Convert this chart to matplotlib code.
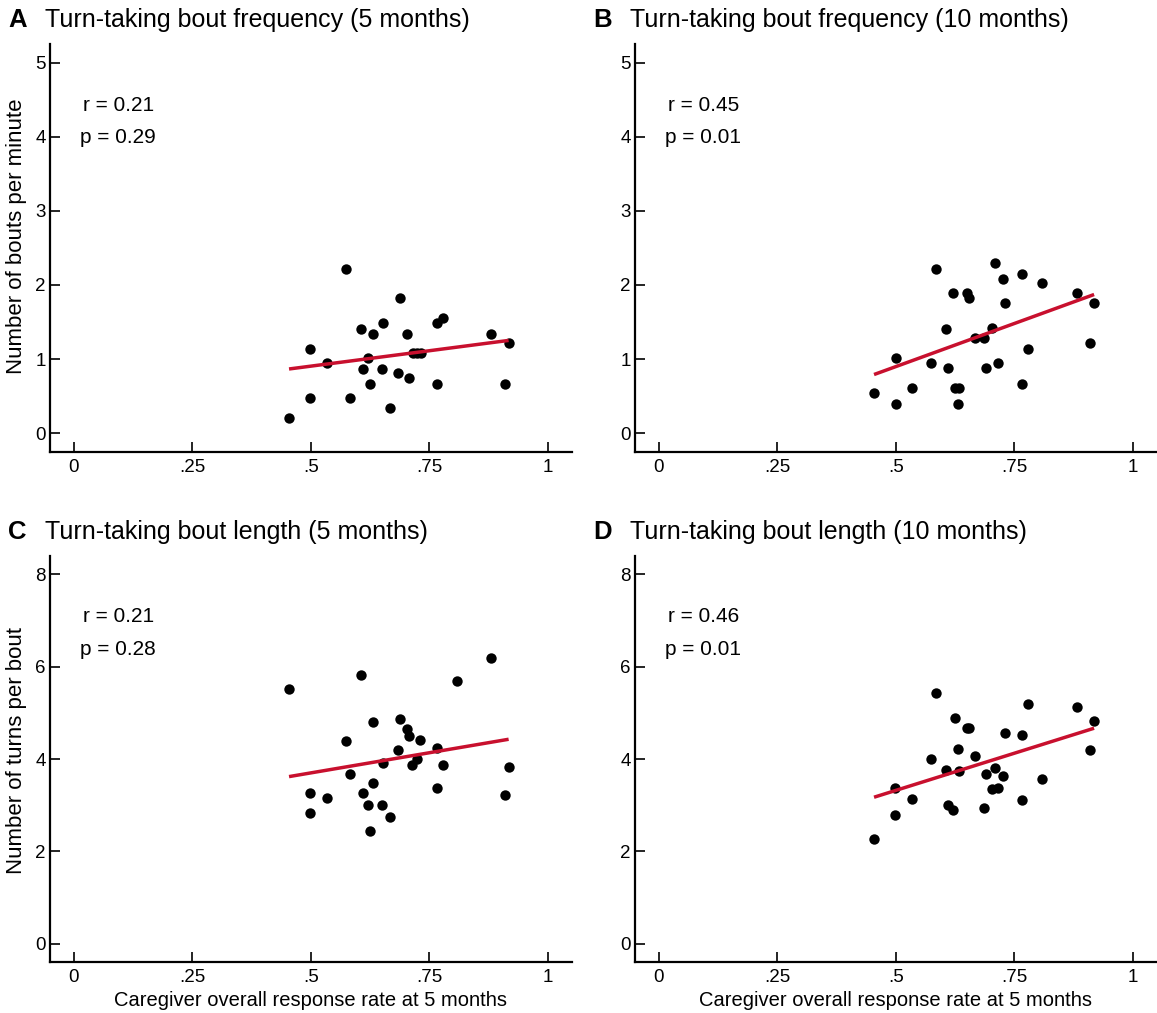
import numpy as np
import matplotlib
matplotlib.use("Agg")
import matplotlib.pyplot as plt

plt.rcParams['font.family'] = ['Liberation Sans', 'DejaVu Sans']

# caregiver overall response rate at 5 months (x) and outcomes (y)
xA = [0.454, 0.499, 0.499, 0.534, 0.575, 0.582, 0.605, 0.609, 0.621, 0.624, 0.631, 0.650, 0.653, 0.667,
      0.684, 0.689, 0.702, 0.708, 0.716, 0.724, 0.732, 0.765, 0.765, 0.778, 0.880, 0.909, 0.917]
yA = [0.20, 1.14, 0.47, 0.94, 2.22, 0.47, 1.41, 0.87, 1.01, 0.67, 1.34, 0.87, 1.48, 0.34,
      0.81, 1.82, 1.34, 0.74, 1.08, 1.08, 1.08, 1.48, 0.67, 1.55, 1.34, 0.67, 1.21]

xB = [0.454, 0.500, 0.500, 0.535, 0.575, 0.584, 0.606, 0.609, 0.621, 0.624, 0.633, 0.631, 0.650, 0.654, 0.667,
      0.686, 0.690, 0.702, 0.709, 0.715, 0.725, 0.731, 0.766, 0.766, 0.778, 0.809, 0.881, 0.910, 0.918]
yB = [0.54, 1.01, 0.40, 0.61, 0.94, 2.22, 1.41, 0.88, 1.89, 0.61, 0.61, 0.40, 1.89, 1.82, 1.28,
      1.28, 0.88, 1.42, 2.29, 0.94, 2.08, 1.75, 2.15, 0.67, 1.14, 2.02, 1.89, 1.21, 1.75]

xC = [0.454, 0.499, 0.499, 0.534, 0.575, 0.582, 0.605, 0.609, 0.621, 0.624, 0.630, 0.631, 0.650, 0.653, 0.667,
      0.684, 0.689, 0.702, 0.708, 0.714, 0.724, 0.731, 0.765, 0.765, 0.778, 0.809, 0.880, 0.909, 0.917]
yC = [5.52, 3.26, 2.84, 3.15, 4.39, 3.67, 5.83, 3.26, 3.01, 2.44, 4.80, 3.48, 3.01, 3.91, 2.75,
      4.20, 4.87, 4.65, 4.51, 3.88, 4.00, 4.41, 4.25, 3.38, 3.88, 5.70, 6.19, 3.22, 3.83]

xD = [0.454, 0.499, 0.499, 0.534, 0.575, 0.584, 0.605, 0.609, 0.625, 0.621, 0.630, 0.633, 0.650, 0.654, 0.667,
      0.685, 0.690, 0.702, 0.709, 0.716, 0.725, 0.731, 0.766, 0.766, 0.778, 0.809, 0.881, 0.910, 0.918]
yD = [2.28, 3.37, 2.80, 3.13, 4.01, 5.43, 3.77, 3.01, 4.89, 2.89, 4.22, 3.75, 4.68, 4.67, 4.07,
      2.95, 3.67, 3.35, 3.81, 3.38, 3.64, 4.57, 4.53, 3.12, 5.20, 3.56, 5.13, 4.19, 4.82]

letters = ["A", "B", "C", "D"]
titles = ["Turn-taking bout frequency (5 months)", "Turn-taking bout frequency (10 months)",
          "Turn-taking bout length (5 months)", "Turn-taking bout length (10 months)"]
r_vals = ["0.21", "0.45", "0.21", "0.46"]
p_vals = ["0.29", "0.01", "0.28", "0.01"]
xticks = [0, 0.25, 0.5, 0.75, 1]
xticklabels = ["0", ".25", ".5", ".75", "1"]
yticks_freq = [0, 1, 2, 3, 4, 5]
yticks_len = [0, 2, 4, 6, 8]

W, H = 1157, 1013
fig = plt.figure(figsize=(W / 100, H / 100), dpi=100)

# pixel boxes: left, top, right, bottom
boxes = [(50, 44, 571.7, 451.7), (635, 44, 1156.7, 451.7),
         (50, 556, 571.7, 962.3), (635, 556, 1156.7, 962.3)]

data = [(xA, yA), (xB, yB), (xC, yC), (xD, yD)]
red = "#c8102e"

for i, (l, t, r, b) in enumerate(boxes):
    ax = fig.add_axes([l / W, 1 - b / H, (r - l) / W, (b - t) / H])
    x, y = np.array(data[i][0]), np.array(data[i][1])
    ymax = 5 if i < 2 else 8
    ax.scatter(x, y, s=56, color="black", zorder=3, linewidths=0)
    k, c = np.polyfit(x, y, 1)
    xs = np.array([x.min(), x.max()])
    ax.plot(xs, k * xs + c, color=red, lw=2.5, zorder=4, solid_capstyle="butt")
    ax.set_xlim(-0.05, 1.05)
    ax.set_ylim(-0.05 * ymax, 1.05 * ymax)
    ax.set_xticks(xticks)
    ax.set_xticklabels(xticklabels)
    ax.set_yticks(yticks_freq if i < 2 else yticks_len)
    for s in ["top", "right"]:
        ax.spines[s].set_visible(False)
    for s in ["left", "bottom"]:
        ax.spines[s].set_linewidth(1.6)
    ax.tick_params(direction="in", length=7, width=1.2, labelsize=13.5, pad=5)
    ax.tick_params(axis="y", pad=3)
    ax.text(0.094, 0.885 * ymax, "r = " + r_vals[i], ha="center", va="center", fontsize=15)
    ax.text(0.094, 0.797 * ymax, "p = " + p_vals[i], ha="center", va="center", fontsize=15)
    fig.text((l - 42) / W, 1 - (t - 24) / H, letters[i], fontsize=18.5, fontweight="bold",
             ha="left", va="center")
    fig.text((l - 5) / W, 1 - (t - 24) / H, titles[i], fontsize=18, ha="left", va="center")
    if i >= 2:
        fig.text((l + r) / 2 / W, 1 - 1000 / H, "Caregiver overall response rate at 5 months",
                 fontsize=14.5, ha="center", va="center")

fig.text(17 / W, 1 - 236 / H, "Number of bouts per minute", rotation=90, fontsize=16,
         ha="center", va="center")
fig.text(17 / W, 1 - 750 / H, "Number of turns per bout", rotation=90, fontsize=16,
         ha="center", va="center")

fig.savefig("out.png", dpi=100)
